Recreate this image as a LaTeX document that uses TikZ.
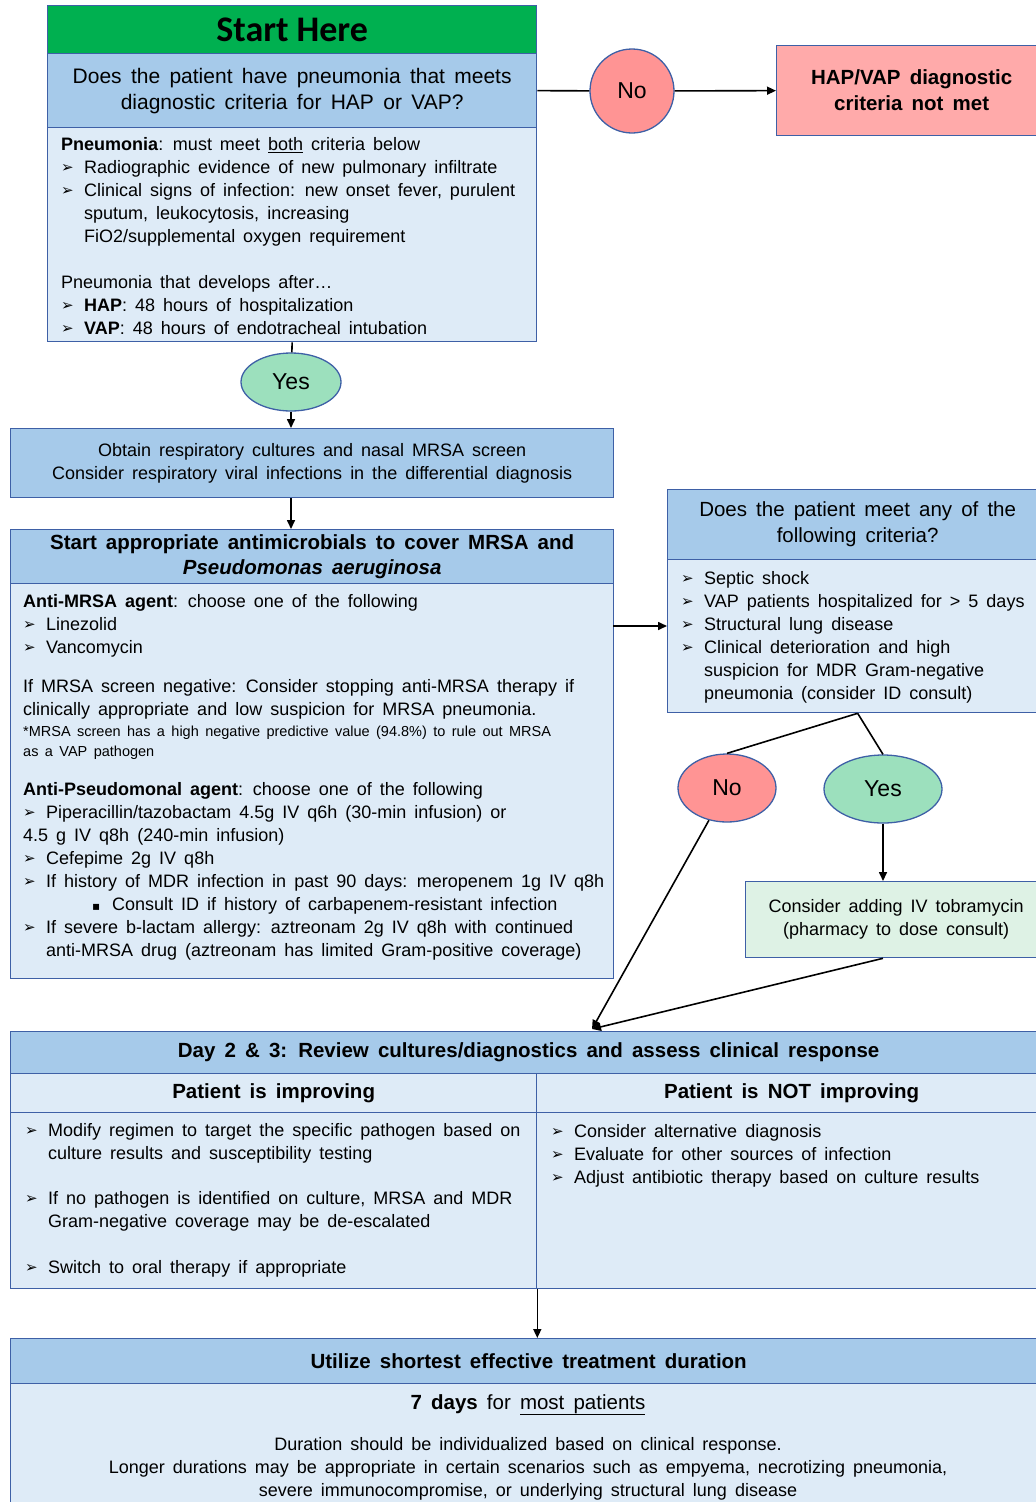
\documentclass[tikz,border=0pt]{standalone}
\usepackage{fontspec}
\setmainfont{Liberation Sans}[WordSpace=1.6]
\newfontfamily\headfont{Carlito}
\newfontfamily\symfont{DejaVu Sans}
\usetikzlibrary{arrows.meta,shapes.geometric}
\definecolor{hdrblue}{RGB}{166,202,234}
\definecolor{bodyblue}{RGB}{222,235,247}
\definecolor{edgeblue}{RGB}{62,96,166}
\definecolor{startgreen}{RGB}{0,176,80}
\definecolor{yesgreen}{RGB}{156,224,189}
\definecolor{nored}{RGB}{255,148,148}
\definecolor{hapred}{RGB}{255,170,170}
\definecolor{tobgreen}{RGB}{222,242,229}
\newcommand{\fs}[2]{\fontsize{#1}{#2}\selectfont}
\newcommand{\arr}{\makebox[23pt][l]{\symfont\fs{15}{15}\raisebox{0.5pt}{➢}}}
\newcommand{\ind}{\hspace*{23pt}}
\begin{document}
\begin{tikzpicture}[x=1pt,y=-1pt,
  box/.style={draw=edgeblue,line width=1.3pt,inner sep=0,anchor=north west,align=center},
  hdr/.style={box,fill=hdrblue},
  bdy/.style={box,fill=bodyblue},
  txt/.style={inner sep=0,anchor=north west,align=left,font=\fs{18}{23}},
  yesnode/.style={ellipse,draw=edgeblue,line width=1.3pt,fill=yesgreen,font=\fs{23}{26},inner sep=0},
  nonode/.style={yesnode,fill=nored},
  link/.style={line width=1.6pt},
  arw/.style={link,-{Triangle[length=9pt,width=8pt]}}]
\useasboundingbox (0,0) rectangle (1036,1502);

% first question
\node[box,fill=startgreen,minimum width=489,minimum height=48,font=\headfont\bfseries\fs{36}{38}] (start) at (47,5) {Start Here};
\node[hdr,minimum width=489,minimum height=74,font=\fs{21}{26}] (q1) at (47,53) {Does the patient have pneumonia that meets\\diagnostic criteria for HAP or VAP?};
\node[bdy,minimum width=489,minimum height=214] (q1b) at (47,127) {};
\node[txt] (q1t) at (61,137) {\textbf{Pneumonia}: must meet \underline{both} criteria below\\
  \arr Radiographic evidence of new pulmonary infiltrate\\
  \arr Clinical signs of infection: new onset fever, purulent\\
  \ind sputum, leukocytosis, increasing\\
  \ind FiO2/supplemental oxygen requirement\\[23pt]
  Pneumonia that develops after\ldots\\
  \arr \textbf{HAP}: 48 hours of hospitalization\\
  \arr \textbf{VAP}: 48 hours of endotracheal intubation};

\node[nonode,circle,minimum size=84] (no1) at (632,91) {No};
\node[box,fill=hapred,minimum width=270,minimum height=90,font=\bfseries\fs{20.5}{26}] (hap) at (776,45) {HAP/VAP diagnostic\\criteria not met};
\node[yesnode,minimum width=100,minimum height=58] (yes1) at (291,382) {Yes};

% cultures and empiric therapy
\node[hdr,minimum width=603,minimum height=69,font=\fs{18}{23}] (obt) at (10,428) {Obtain respiratory cultures and nasal MRSA screen\\Consider respiratory viral infections in the differential diagnosis};
\node[hdr,minimum width=603,minimum height=54,font=\bfseries\fs{20.5}{25}] (abx) at (10,529) {Start appropriate antimicrobials to cover MRSA and\\\textit{Pseudomonas aeruginosa}};
\node[bdy,minimum width=603,minimum height=395] (abxb) at (10,583) {};
\node[txt] (abxt) at (23,594) {\textbf{Anti-MRSA agent}: choose one of the following\\
  \arr Linezolid\\
  \arr Vancomycin\\[16pt]
  If MRSA screen negative: Consider stopping anti-MRSA therapy if\\
  clinically appropriate and low suspicion for MRSA pneumonia.\\[-2pt]
  {\fs{14.5}{18}*MRSA screen has a high negative predictive value (94.8\%) to rule out MRSA}\\[-3pt]
  {\fs{14.5}{18}as a VAP pathogen}\\[16pt]
  \textbf{Anti-Pseudomonal agent}: choose one of the following\\
  \arr Piperacillin/tazobactam 4.5g IV q6h (30-min infusion) or\\
  4.5 g IV q8h (240-min infusion)\\
  \arr Cefepime 2g IV q8h\\
  \arr If history of MDR infection in past 90 days: meropenem 1g IV q8h\\
  \hspace*{69pt}\makebox[20pt][l]{\symfont\fs{12}{12}▪}Consult ID if history of carbapenem-resistant infection\\
  \arr If severe b-lactam allergy: aztreonam 2g IV q8h with continued\\
  \ind anti-MRSA drug (aztreonam has limited Gram-positive coverage)};

% second question
\node[hdr,minimum width=380,minimum height=70,font=\fs{20.5}{26}] (crit) at (667,489) {Does the patient meet any of the\\following criteria?};
\node[bdy,minimum width=380,minimum height=153] (critb) at (667,559) {};
\node[txt] (critt) at (681,571) {\arr Septic shock\\
  \arr VAP patients hospitalized for > 5 days\\
  \arr Structural lung disease\\
  \arr Clinical deterioration and high\\
  \ind suspicion for MDR Gram-negative\\
  \ind pneumonia (consider ID consult)};
\node[nonode,minimum width=98,minimum height=68] (no2) at (727,788) {No};
\node[yesnode,minimum width=118,minimum height=68] (yes2) at (883,789) {Yes};
\node[box,fill=tobgreen,minimum width=301,minimum height=76,font=\fs{18}{23}] (tob) at (745,881) {Consider adding IV tobramycin\\(pharmacy to dose consult)};

% day 2 and 3 review
\node[hdr,minimum width=1036,minimum height=42,font=\bfseries\fs{20.5}{24}] (day) at (10,1031) {Day 2 \& 3: Review cultures/diagnostics and assess clinical response};
\node[bdy,minimum width=526,minimum height=39,font=\bfseries\fs{20.5}{24}] (impr) at (10,1073) {Patient is improving};
\node[bdy,minimum width=510,minimum height=39,font=\bfseries\fs{20.5}{24}] (notimpr) at (536,1073) {Patient is NOT improving};
\node[bdy,minimum width=526,minimum height=176] (imprb) at (10,1112) {};
\node[bdy,minimum width=510,minimum height=176] (notimprb) at (536,1112) {};
\node[txt] (imprt) at (25,1123) {\arr Modify regimen to target the specific pathogen based on\\
  \ind culture results and susceptibility testing\\[22pt]
  \arr If no pathogen is identified on culture, MRSA and MDR\\
  \ind Gram-negative coverage may be de-escalated\\[23pt]
  \arr Switch to oral therapy if appropriate};
\node[txt] (notimprt) at (551,1124) {\arr Consider alternative diagnosis\\
  \arr Evaluate for other sources of infection\\
  \arr Adjust antibiotic therapy based on culture results};

% duration
\node[hdr,minimum width=1036,minimum height=45,font=\bfseries\fs{20.5}{24}] (util) at (10,1338) {Utilize shortest effective treatment duration};
\node[bdy,minimum width=1036,minimum height=130] (utilb) at (10,1383) {};
\node[inner sep=0,anchor=base,font=\fs{20.5}{24}] (util7) at (528,1409) {\textbf{7 days} for \underline{most patients}};
\node[inner sep=0,anchor=north,align=center,font=\fs{18}{23}] (utilt) at (528,1437) {Duration should be individualized based on clinical response.\\
  Longer durations may be appropriate in certain scenarios such as empyema, necrotizing pneumonia,\\
  severe immunocompromise, or underlying structural lung disease};

% connectors
\draw[link] (q1.east) -- (no1);
\draw[arw] (no1) -- (hap.west);
\draw[link] (q1b.south) -- (yes1);
\draw[arw] (yes1) -- (yes1 |- obt.north);
\draw[arw] (obt.south -| yes1) -- (abx.north -| yes1);
\coordinate (tocrit) at (613,626);
\draw[arw] (tocrit) -- (tocrit -| critb.west);
\draw[link] (critb.south) -- (no2.north);
\draw[link] (critb.south) -- (yes2.north);
\draw[arw] (yes2) -- (yes2 |- tob.north);
\coordinate (join) at (592,1029);
\draw[arw] (no2) -- (join);
\draw[arw] (tob.south -| yes2) -- (join);
\draw[arw] (imprb.south east) -- (imprb.south east |- util.north);
\end{tikzpicture}
\end{document}
